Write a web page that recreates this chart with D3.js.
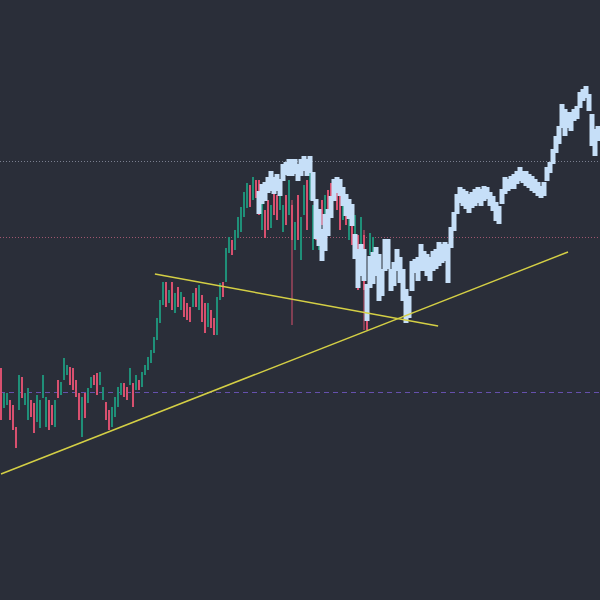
<!DOCTYPE html>
<html><head><meta charset="utf-8">
<script src="https://cdn.jsdelivr.net/npm/d3@7/dist/d3.min.js"></script>
<style>html,body{margin:0;padding:0;background:#2a2e39;}svg{display:block;}</style>
</head><body>
<svg id="chart" width="600" height="600"></svg>
<script>
// Candles (price units), index 0..124
const candleOpen  = [232,192,195,200,195,173,190,223,195,180,200,197,178,172,202,173,200,195,173,220,205,220,225,233,232,220,207,163,207,197,212,225,227,215,200,198,190,173,183,193,205,217,213,215,217,210,220,213,225,230,237,247,260,277,295,318,297,318,287,313,290,303,297,293,293,312,290,305,297,273,290,282,265,300,318,318,347,360,350,362,368,383,392,415,400,420,420,370,390,400,372,410,405,390,368,405,385,395,350,405,340,385,420,400,350,400,350,400,380,410,417,400,415,410,380,400,360,383,350,365,340,365,315,345,330];
const candleHigh  = [232,207,207,200,195,173,225,223,207,212,200,197,205,200,225,203,200,195,200,220,218,242,235,233,232,220,207,203,207,212,223,225,227,228,213,198,190,193,203,213,217,217,213,232,217,225,220,228,235,243,250,263,282,300,318,318,310,318,307,313,308,303,297,293,307,312,315,305,297,297,290,282,303,317,318,352,363,360,370,383,393,408,417,415,423,420,420,410,390,400,395,410,405,415,395,405,420,400,378,405,383,415,420,430,395,400,390,400,405,410,417,420,415,410,405,400,395,383,385,365,383,370,315,367,363];
const candleLow   = [180,192,195,180,170,152,190,202,195,180,183,167,178,172,202,173,170,175,173,202,205,220,225,215,210,203,180,163,182,197,212,215,205,215,200,180,170,173,183,193,205,203,200,215,193,210,210,213,225,230,237,247,260,277,295,293,297,290,287,293,290,283,280,278,293,293,290,278,267,273,272,265,265,300,303,318,347,345,350,362,368,383,392,393,400,402,385,370,362,370,372,385,380,390,368,375,385,275,350,360,340,385,370,400,350,360,350,375,380,385,383,400,390,370,380,375,360,355,350,310,340,270,270,345,330];
const candleClose = [180,207,207,180,170,152,225,202,207,212,183,167,205,200,225,203,170,175,200,202,218,242,235,215,210,203,180,203,182,212,223,215,205,228,213,180,170,193,203,213,217,203,200,232,193,225,210,228,235,243,250,263,282,300,318,293,310,290,307,293,308,283,280,278,307,293,315,278,267,297,272,265,303,317,303,352,363,345,370,383,393,408,417,393,423,402,385,410,362,370,395,385,380,415,395,375,420,360,378,360,383,415,370,430,395,360,390,375,405,385,383,420,390,370,405,375,395,355,385,310,383,310,270,367,363];

// Light-blue overlay bars, starting at index 86
const blueStart = 86;
const blueHigh = [408,415,417,422,428,422,425,420,435,437,440,440,440,435,440,443,440,443,427,400,390,370,385,390,403,420,422,420,412,405,400,395,365,350,355,350,315,343,347,352,345,330,360,360,330,337,350,342,330,310,303,338,340,342,355,348,345,342,348,350,357,355,357,355,372,387,405,412,410,408,405,407,410,412,410,413,412,407,403,397,393,410,422,420,423,425,428,432,428,428,425,423,420,417,413,417,432,437,450,463,473,495,490,487,487,490,493,507,510,513,505,485,470,473];
const blueLow  = [387,397,400,408,410,407,410,405,420,426,425,425,427,420,425,430,425,428,400,362,355,340,350,365,383,400,408,405,395,385,382,375,342,313,325,320,280,313,317,325,300,305,330,332,310,315,330,318,300,278,283,310,328,320,330,330,325,320,330,332,335,338,340,318,353,370,387,398,395,392,388,393,395,398,395,400,402,395,390,380,377,397,407,410,412,412,417,420,418,415,413,410,408,405,403,405,420,428,437,448,457,473,465,473,470,480,482,493,500,503,490,455,445,460];

// Horizontal levels and trend lines
const levelValues = [439, 363, 208];
const trendLines = [
  [{i: 0, v: 126}, {i: 189, v: 348}],
  [{i: 51.3, v: 326}, {i: 145.7, v: 274}]
];

const W = 600, H = 600;
const svg = d3.select('#chart');
svg.append('rect').attr('width', W).attr('height', H).attr('fill', '#2a2e39');

const x = d3.scaleLinear().domain([0, 200]).range([1, 601]);
const y = d3.scaleLinear().domain([0, 600]).range([600, 0]);

// levels
const levelStyles = [
  {stroke: '#7a7f8f', dash: '1,2'},
  {stroke: '#a0566f', dash: '1,2'},
  {stroke: '#6650ad', dash: '5,4'}
];
svg.append('g').selectAll('line').data(levelValues).join('line')
  .attr('x1', 0).attr('x2', W)
  .attr('y1', d => Math.round(y(d)) + 0.5).attr('y2', d => Math.round(y(d)) + 0.5)
  .attr('stroke', (d, k) => levelStyles[k].stroke)
  .attr('stroke-dasharray', (d, k) => levelStyles[k].dash)
  .attr('stroke-width', 1);

// candles
const candles = candleOpen.map((o, k) => ({i: k, o, h: candleHigh[k], l: candleLow[k], c: candleClose[k]}));
const up = '#1f8f78', down = '#d8506f';
const cg = svg.append('g');
cg.selectAll('line').data(candles).join('line')
  .attr('x1', d => x(d.i)).attr('x2', d => x(d.i))
  .attr('y1', d => y(d.h)).attr('y2', d => y(d.l))
  .attr('stroke', d => d.c >= d.o ? up : down).attr('stroke-width', 1);
cg.selectAll('rect').data(candles).join('rect')
  .attr('x', d => x(d.i) - 1).attr('width', 2)
  .attr('y', d => y(Math.max(d.o, d.c)))
  .attr('height', d => Math.max(1, y(Math.min(d.o, d.c)) - y(Math.max(d.o, d.c))))
  .attr('fill', d => d.c >= d.o ? up : down);

// light blue bars
const blue = blueHigh.map((h, k) => ({i: blueStart + k, h, l: blueLow[k]}));
svg.append('g').selectAll('rect').data(blue).join('rect')
  .attr('x', d => x(d.i) - 2.5).attr('width', 5)
  .attr('y', d => y(d.h) - 1)
  .attr('height', d => Math.max(4, y(d.l) - y(d.h) + 2))
  .attr('fill', '#c6dff8');

// trend lines
const lineGen = d3.line().x(d => x(d.i)).y(d => y(d.v));
svg.append('g').selectAll('path').data(trendLines).join('path')
  .attr('d', lineGen).attr('fill', 'none')
  .attr('stroke', '#d4cf45').attr('stroke-width', 1.5);
</script>
</body></html>
